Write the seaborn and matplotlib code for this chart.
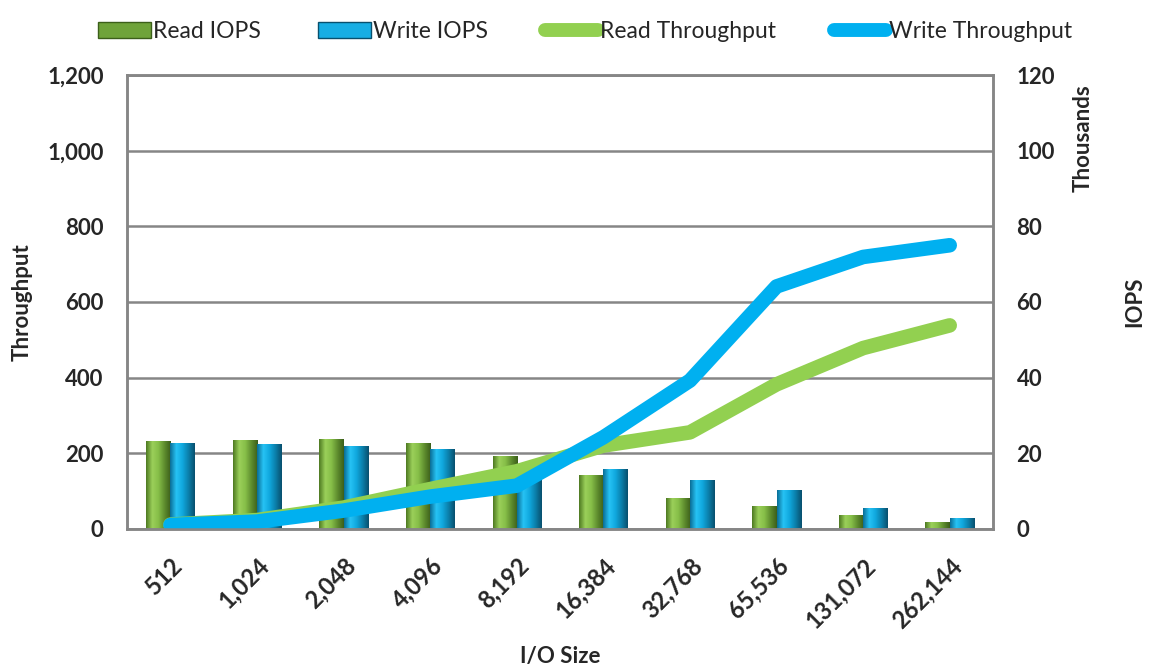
import numpy as np
import pandas as pd
import matplotlib
matplotlib.use("Agg")
import matplotlib.pyplot as plt
import seaborn as sns
from matplotlib.lines import Line2D
from matplotlib.patches import Patch
from matplotlib.colors import LinearSegmentedColormap

# values
io_sizes = ["512", "1,024", "2,048", "4,096", "8,192",
            "16,384", "32,768", "65,536", "131,072", "262,144"]
read_iops = [23.3, 23.4, 23.7, 22.8, 19.3, 14.3, 8.1, 5.9, 3.6, 1.9]      # thousands
write_iops = [22.7, 22.4, 22.0, 21.2, 14.0, 15.8, 12.8, 10.2, 5.6, 2.8]   # thousands
read_tput = [11, 23, 56, 105, 152, 220, 255, 382, 478, 538]
write_tput = [10, 19, 48, 85, 114, 242, 392, 641, 719, 750]

green = "#92D050"
blue = "#00B0F0"

sns.set_style("white")
plt.rcParams["font.family"] = ["Lato", "DejaVu Sans"]

bars = pd.DataFrame({
    "size": io_sizes * 2,
    "iops": read_iops + write_iops,
    "kind": ["Read IOPS"] * 10 + ["Write IOPS"] * 10,
})
lines = pd.DataFrame({
    "pos": list(range(10)) * 2,
    "tput": read_tput + write_tput,
    "kind": ["Read Throughput"] * 10 + ["Write Throughput"] * 10,
})

fig, ax = plt.subplots(figsize=(11.56, 6.71), dpi=100)
fig.subplots_adjust(left=0.110, right=0.859, top=0.888, bottom=0.212)
ax2 = ax.twinx()

# bars on the primary axis (IOPS), lines on the twin so they sit on top
sns.barplot(data=bars, x="size", y="iops", hue="kind", ax=ax,
            palette=[green, blue], width=0.56, edgecolor="none", legend=False)
ax.set_ylim(0, 120)
ax.set_yticks(range(0, 121, 20))

# bevel-ish gradient on bars
cmaps = {
    0: LinearSegmentedColormap.from_list("g", ["#4E7A22", "#9BD05A", "#86BE48", "#5E8C2E", "#3C5F1A"]),
    1: LinearSegmentedColormap.from_list("b", ["#0A6E96", "#27C3F5", "#10A8DE", "#0B7FAA", "#08506E"]),
}
grad = np.linspace(0, 1, 64).reshape(1, -1)
for i, p in enumerate(ax.patches[:20]):
    x0, y0 = p.get_x(), p.get_y()
    w, h = p.get_width(), p.get_height()
    im = ax.imshow(grad, cmap=cmaps[i // 10], aspect="auto",
                   extent=[x0, x0 + w, y0, y0 + h], zorder=p.get_zorder())
    im.set_clip_path(p)
ax.set_xlim(-0.5, 9.5)

ax.set_ylabel("")
ax.set_xlabel("I/O Size", fontsize=16, fontweight="bold", labelpad=10)
ax.grid(axis="y", color="#868686", linewidth=1.8)
ax.set_axisbelow(True)
ax.tick_params(axis="y", labelsize=16, length=0, pad=17, left=False, labelleft=False,
               right=True, labelright=True)
ax.tick_params(axis="x", labelsize=17, length=0, pad=18)
for lab in ax.get_yticklabels():
    lab.set_fontweight("bold")
plt.setp(ax.get_xticklabels(), rotation=45, ha="right", rotation_mode="anchor",
         fontweight="bold")

sns.lineplot(data=lines, x="pos", y="tput", hue="kind", ax=ax2,
             palette=[green, blue], linewidth=10.5, legend=False)
for ln in ax2.lines:
    ln.set_solid_capstyle("round")
    ln.set_solid_joinstyle("round")
ax2.set_ylim(0, 1200)
ax2.set_yticks(range(0, 1201, 200))
ax2.set_yticklabels([f"{v:,}" for v in range(0, 1201, 200)])
ax2.yaxis.tick_left()
ax2.set_ylabel("")
ax2.tick_params(axis="y", labelsize=16, length=0, pad=17)
for lab in ax2.get_yticklabels():
    lab.set_fontweight("bold")
ax2.set_xlim(-0.5, 9.5)
ax2.set_xlabel("")

for a in (ax, ax2):
    for s in a.spines.values():
        s.set_color("#868686")
        s.set_linewidth(1.8)

fig.text(22 / 1156, 1 - 302 / 671, "Throughput", rotation=90, fontsize=16,
         fontweight="bold", ha="center", va="center")
fig.text(1083 / 1156, 1 - 138 / 671, "Thousands", rotation=90, fontsize=16,
         fontweight="bold", ha="center", va="center")
fig.text(1135 / 1156, 1 - 302 / 671, "IOPS", rotation=90, fontsize=16,
         fontweight="bold", ha="center", va="center")

handles = [
    Patch(facecolor="#6FA33A", edgecolor="#3C5F1A"),
    Patch(facecolor="#17AEE4", edgecolor="#08506E"),
    Line2D([], [], color=green, linewidth=10, solid_capstyle="round"),
    Line2D([], [], color=blue, linewidth=10, solid_capstyle="round"),
]
labels = ["Read IOPS", "Write IOPS", "Read Throughput", "Write Throughput"]
fig.legend(handles, labels, loc="upper center", bbox_to_anchor=(0.506, 1.0),
           ncol=4, frameon=False, fontsize=16.5, handlelength=2.3,
           handletextpad=0.1, columnspacing=2.5)

fig.savefig("out.png", dpi=100)
